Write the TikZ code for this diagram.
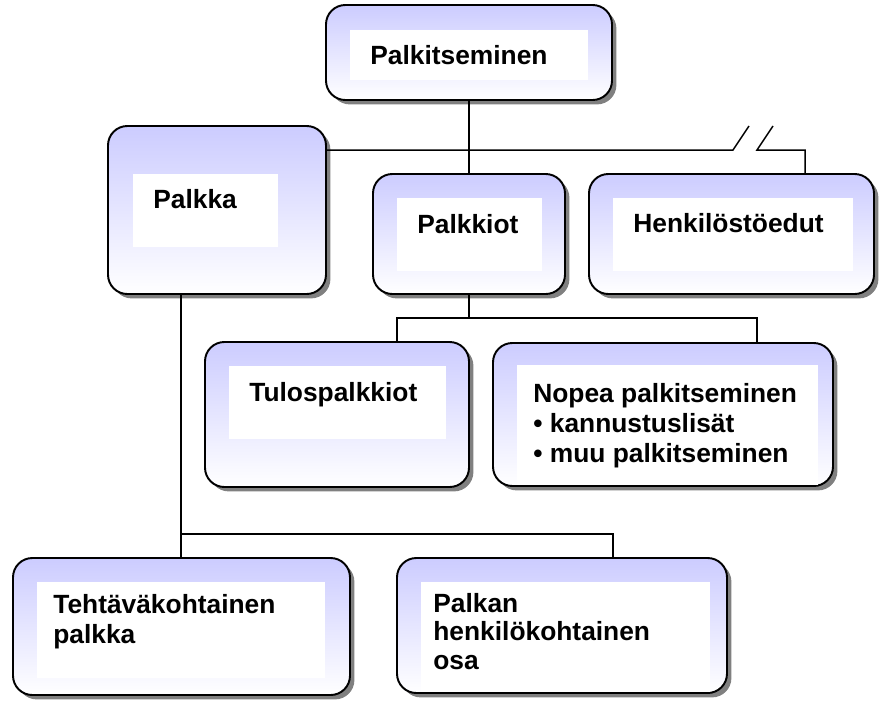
\documentclass[tikz,border=0pt]{standalone}
\usepackage{fontspec}
\setmainfont{Liberation Sans}
\usepackage{xcolor}
\usepackage{tikz}
\usetikzlibrary{calc}
\usetikzlibrary{fit}
\usetikzlibrary{shadows}
\definecolor{lavender}{RGB}{204,204,255}
\tikzstyle{orgbox} = [draw=black, line width=1.1pt, rounded corners=11pt,
inner sep=0pt, top color=lavender, bottom color=white, middle color=lavender!50!white,
drop shadow={shadow xshift=2.5pt, shadow yshift=-2.5pt, fill=black!50, opacity=1}]
\tikzstyle{innerbox} = [fill=white, inner sep=0pt]
\tikzstyle{boxtext} = [font=\fontsize{15}{17}\selectfont\bfseries, inner sep=0pt,
anchor=base west, align=left]
\tikzstyle{link} = [draw=black, line width=0.85pt]

\begin{document}
\begin{tikzpicture}[x=0.02cm, y=-0.02cm]
        \useasboundingbox (0,0) rectangle (882,704);
        % boxes (multi-line texts sit on their last baseline)
        \node [orgbox, fit={(326,5) (612,100)}] (top) {};
        \node [innerbox, fit={(350,30) (588,80)}] (top-in) {};
        \node [boxtext] (top-t) at (370,64) {Palkitseminen};

        \node [orgbox, fit={(108,126) (326,294)}] (palkka) {};
        \node [innerbox, fit={(133,174) (278,247)}] (palkka-in) {};
        \node [boxtext] (palkka-t) at (153,208) {Palkka};

        \node [orgbox, fit={(373,174) (565,294)}] (palkkiot) {};
        \node [innerbox, fit={(397,198) (542,271)}] (palkkiot-in) {};
        \node [boxtext] (palkkiot-t) at (417,233) {Palkkiot};

        \node [orgbox, fit={(589,174) (874,294)}] (henk) {};
        \node [innerbox, fit={(613,198) (853,271)}] (henk-in) {};
        \node [boxtext] (henk-t) at (633,232) {Henkilöstöedut};

        \node [orgbox, fit={(205,342) (469,487)}] (tulos) {};
        \node [innerbox, fit={(229,366) (446,439)}] (tulos-in) {};
        \node [boxtext] (tulos-t) at (249,401) {Tulospalkkiot};

        \node [orgbox, fit={(493,343) (833,486)}] (nopea) {};
        \node [innerbox, fit={(517,365) (818,485)}] (nopea-in) {};
        \node [boxtext] (nopea-t) at (533,462) {Nopea palkitseminen\\• kannustuslisät\\• muu palkitseminen};

        \node [orgbox, fit={(13,558) (350,695)}] (tehtava) {};
        \node [innerbox, fit={(37,582) (325,678)}] (tehtava-in) {};
        \node [boxtext] (tehtava-t) at (53,643) {Tehtäväkohtainen\\palkka};

        \node [orgbox, fit={(397,558) (727,693)}] (palkan) {};
        \node [innerbox, fit={(421,582) (710,692)}] (palkan-in) {};
        \node [boxtext, font=\fontsize{15}{16}\selectfont\bfseries] (palkan-t) at (433,669) {Palkan\\henkilökohtainen\\osa};

        % connectors
        \coordinate (brkA) at (733,150);
        \coordinate (brkB) at (757,150);
        \coordinate (henk-up) at (805,150);
        \draw [link] (top.south) -- (palkkiot.north);
        \draw [link] (palkka.east |- brkA) -- (brkA) -- ++(16,-24);
        \draw [link] (brkB) ++(16,-24) -- (brkB) -- (henk-up) -- (henk-up |- henk.north);

        \coordinate (pk-l) at (397,318);
        \coordinate (pk-r) at (757,318);
        \draw [link] (palkkiot.south) -- (palkkiot.south |- pk-l);
        \draw [link] (tulos.north -| pk-l) -- (pk-l) -- (pk-r) -- (pk-r |- nopea.north);

        \coordinate (pa-l) at (181,534);
        \coordinate (pa-r) at (613,534);
        \draw [link] (palkka.south -| pa-l) -- (tehtava.north -| pa-l);
        \draw [link] (pa-l) -- (pa-r) -- (pa-r |- palkan.north);
    \end{tikzpicture}
\end{document}
